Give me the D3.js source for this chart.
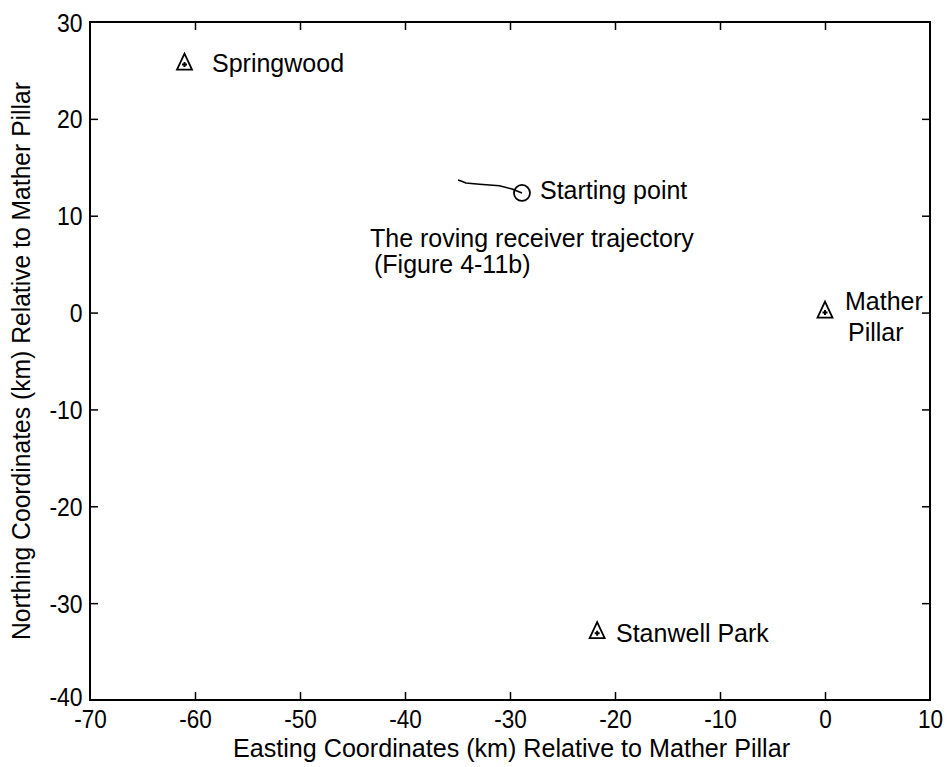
<!DOCTYPE html>
<html>
<head>
<meta charset="utf-8">
<script src="https://cdn.jsdelivr.net/npm/d3@7/dist/d3.min.js"></script>
<style>
  html, body { margin: 0; padding: 0; background: #fff; }
  svg text { font-family: "Liberation Sans", Arial, Helvetica, sans-serif; fill: #000; }
</style>
</head>
<body>
<svg id="chart" width="950" height="767"></svg>
<script>
// Reference stations (easting km, northing km relative to Mather Pillar)
const stationNames = ["Springwood", "Mather Pillar", "Stanwell Park"];
const stationEast  = [-61, 0, -21.7];
const stationNorth = [25.6, 0, -33.1];

// Roving receiver trajectory (easting, northing in km)
const trackEast  = [-34.95, -34.6, -34.2, -32.9, -31.0, -29.8, -28.86];
const trackNorth = [13.69, 13.55, 13.38, 13.25, 13.1, 12.75, 12.35];

// Axis ticks
const xTicks = [-70, -60, -50, -40, -30, -20, -10, 0, 10];
const yTicks = [30, 20, 10, 0, -10, -20, -30, -40];

const svg = d3.select("#chart");
const margin = { left: 90, top: 22, right: 20, bottom: 67 };
const W = 950, H = 767;
const plotW = W - margin.left - margin.right;   // 840
const plotH = H - margin.top - margin.bottom;   // 678

const x = d3.scaleLinear().domain([-70, 10]).range([margin.left, margin.left + plotW]);
const y = d3.scaleLinear().domain([-40, 30]).range([margin.top + plotH, margin.top]);

const tickLen = 8;
const fs = 25;

// Box frame
svg.append("rect")
  .attr("x", x(-70)).attr("y", y(30))
  .attr("width", x(10) - x(-70)).attr("height", y(-40) - y(30))
  .attr("fill", "none").attr("stroke", "#000").attr("stroke-width", 2);

// Bottom and top axes (inward ticks)
const fmt = d => String(d);
const xBottom = svg.append("g").attr("transform", `translate(0,${y(-40)})`)
  .call(d3.axisBottom(x).tickValues(xTicks).tickSizeInner(-tickLen).tickSizeOuter(0).tickPadding(10)
        .tickFormat(fmt));
const xTop = svg.append("g").attr("transform", `translate(0,${y(30)})`)
  .call(d3.axisTop(x).tickValues(xTicks).tickSizeInner(-tickLen).tickSizeOuter(0).tickFormat(""));

// Left and right axes
const yLeft = svg.append("g").attr("transform", `translate(${x(-70)},0)`)
  .call(d3.axisLeft(y).tickValues(yTicks).tickSizeInner(-tickLen).tickSizeOuter(0).tickPadding(8)
        .tickFormat(fmt));
const yRight = svg.append("g").attr("transform", `translate(${x(10)},0)`)
  .call(d3.axisRight(y).tickValues(yTicks).tickSizeInner(-tickLen).tickSizeOuter(0).tickFormat(""));

[xBottom, xTop, yLeft, yRight].forEach(g => {
  g.select(".domain").remove();
  g.selectAll(".tick line").attr("stroke", "#000").attr("stroke-width", 1.5);
  g.selectAll(".tick text").attr("font-size", fs).attr("fill", "#000")
    .style("font-family", '"Liberation Sans", Arial, sans-serif');
});
xBottom.selectAll(".tick text").attr("dy", "0.72em").attr("transform", "scale(0.9,1)");
yLeft.selectAll(".tick text").attr("dy", "0.36em").attr("transform", "scale(0.92,1)");
// The -40 label sits just above the corner
yLeft.selectAll(".tick").filter(d => d === -40).select("text").attr("dy", "0.2em");

// Remove end ticks at the corners
xBottom.selectAll(".tick").filter(d => d === -70 || d === 10).select("line").remove();
xTop.selectAll(".tick").filter(d => d === -70 || d === 10).select("line").remove();
yLeft.selectAll(".tick").filter(d => d === 30 || d === -40).select("line").remove();
yRight.selectAll(".tick").filter(d => d === 30 || d === -40).select("line").remove();

// Trajectory line
const line = d3.line().x((d, i) => x(trackEast[i])).y((d, i) => y(trackNorth[i]));
svg.append("path").datum(trackEast)
  .attr("d", line).attr("fill", "none").attr("stroke", "#000").attr("stroke-width", 1.6);

// Starting point marker
const last = trackEast.length - 1;
svg.append("circle")
  .attr("cx", x(trackEast[last])).attr("cy", y(trackNorth[last])).attr("r", 8)
  .attr("fill", "none").attr("stroke", "#000").attr("stroke-width", 1.8);

// Station markers: triangle with a plus inside
const stations = svg.append("g").selectAll("g").data(stationNames).join("g")
  .attr("transform", (d, i) => `translate(${x(stationEast[i])},${y(stationNorth[i])})`);
stations.append("path")
  .attr("d", "M0,-11 L7.5,5 L-7.5,5 Z")
  .attr("fill", "none").attr("stroke", "#000").attr("stroke-width", 1.8);
stations.append("path")
  .attr("d", "M-2.5,0 L2.5,0 M0,-2.5 L0,2.5")
  .attr("stroke", "#000").attr("stroke-width", 2);

// Annotations (x, baseline y)
const notes = [
  { t: "Springwood", x: 212, y: 72 },
  { t: "Starting point", x: 540, y: 199 },
  { t: "The roving receiver trajectory", x: 370, y: 247 },
  { t: "(Figure 4-11b)", x: 374, y: 273 },
  { t: "Mather", x: 845, y: 310 },
  { t: "Pillar", x: 848, y: 341 },
  { t: "Stanwell Park", x: 616, y: 642 }
];
svg.append("g").selectAll("text").data(notes).join("text")
  .attr("x", d => d.x).attr("y", d => d.y).attr("font-size", fs)
  .text(d => d.t);

// Axis titles
svg.append("text")
  .attr("x", 233).attr("y", 757)
  .attr("font-size", fs).attr("textLength", 557).attr("lengthAdjust", "spacingAndGlyphs")
  .text("Easting Coordinates (km) Relative to Mather Pillar");
svg.append("text")
  .attr("transform", `translate(30,640) rotate(-90)`)
  .attr("font-size", fs).attr("textLength", 558).attr("lengthAdjust", "spacingAndGlyphs")
  .text("Northing Coordinates (km) Relative to Mather Pillar");
</script>
</body>
</html>
